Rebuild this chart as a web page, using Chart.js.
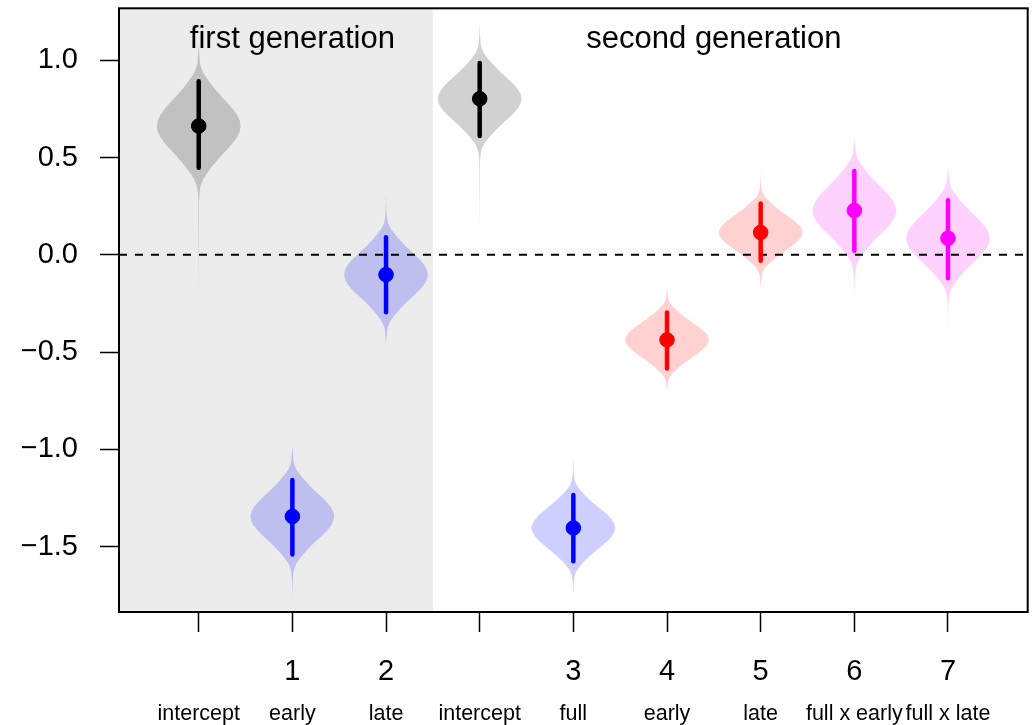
<!DOCTYPE html>
<html>
<head>
    <style>
        body { margin: 0; background: #fff; }
        #chart { display: block; }
    </style>
    <script src="https://cdn.jsdelivr.net/npm/chart.js"></script>
</head>
<body>
    <canvas id="chart" width="1036" height="725"></canvas>
    <script>
        // parameters along the x axis (position = index)
        const categories = ['intercept', 'early', 'late', 'intercept', 'full', 'early', 'late', 'full x early', 'full x late'];
        const termNumbers = ['', '1', '2', '', '3', '4', '5', '6', '7'];
        const groupTitles = ['first generation', 'second generation'];
        const groupTitleX = [1, 5.5];

        // posterior estimates with interval ends
        const estimates = [0.662, -1.345, -0.102, 0.802, -1.404, -0.437, 0.115, 0.228, 0.085];
        const lower = [0.448, -1.541, -0.295, 0.611, -1.575, -0.585, -0.030, 0.021, -0.120];
        const upper = [0.892, -1.157, 0.090, 0.986, -1.234, -0.296, 0.264, 0.431, 0.281];
        // far ends of the thin violin tails
        const tailTop = [1.10, -0.98, 0.31, 1.20, -1.04, -0.17, 0.43, 0.60, 0.46];
        const tailBottom = [-0.20, -1.76, -0.47, 0.12, -1.76, -0.70, -0.19, -0.22, -0.42];

        // violin outline: half width (relative) at distance from the centre (in quarter-interval units)
        const violinOffsets = [0, 0.25, 0.5, 0.75, 1.0, 1.25, 1.5, 1.75, 2.0, 2.25, 2.5, 2.75, 3.0, 3.5];
        const violinWidths = [1, 0.98, 0.92, 0.83, 0.72, 0.6, 0.48, 0.37, 0.27, 0.18, 0.1, 0.05, 0.025, 0.008];

        const yTicks = [-1.5, -1.0, -0.5, 0.0, 0.5, 1.0];
        const yTickLabels = ['\u22121.5', '\u22121.0', '\u22120.5', '0.0', '0.5', '1.0'];

        // styling
        const pointColors = ['#000000', '#0000ff', '#0000ff', '#000000', '#0000ff', '#ff0000', '#ff0000', '#ff00ff', '#ff00ff'];
        const violinFills = ['rgba(0,0,0,0.18)', 'rgba(0,0,255,0.19)', 'rgba(0,0,255,0.19)', 'rgba(0,0,0,0.18)',
            'rgba(0,0,255,0.19)', 'rgba(255,0,0,0.18)', 'rgba(255,0,0,0.18)', 'rgba(255,0,255,0.18)', 'rgba(255,0,255,0.18)'];
        const FONT = 'Liberation Sans, Arial, Helvetica, sans-serif';
        const X_MIN = -0.851, X_MAX = 8.851;
        const Y_MIN = -1.836, Y_MAX = 1.267;
        const SHADE_END = 2.5;
        const VIOLIN_HALF = 0.447;

        Chart.defaults.font.family = FONT;
        Chart.defaults.color = '#000';

        const positions = categories.map((c, i) => i);

        const violinPlugin = {
            id: 'violins',
            beforeDatasetsDraw(chart) {
                const { ctx, chartArea: a, scales: { x, y } } = chart;
                ctx.save();
                ctx.beginPath();
                ctx.rect(a.left, a.top, a.width, a.height);
                ctx.clip();

                // first generation background
                ctx.fillStyle = '#ececec';
                ctx.fillRect(a.left, a.top, x.getPixelForValue(SHADE_END) - a.left, a.height);

                estimates.forEach((m, i) => {
                    const cx = x.getPixelForValue(i);
                    const hw = x.getPixelForValue(i + VIOLIN_HALF) - cx;
                    const q = (upper[i] - lower[i]) / 4;
                    const side = [[0, tailTop[i]]];
                    for (let k = violinOffsets.length - 1; k >= 0; k--) side.push([violinWidths[k], m + violinOffsets[k] * q]);
                    for (let k = 1; k < violinOffsets.length; k++) side.push([violinWidths[k], m - violinOffsets[k] * q]);
                    side.push([0, tailBottom[i]]);

                    ctx.beginPath();
                    side.forEach(([w, v], j) => {
                        const px = cx + w * hw, py = y.getPixelForValue(v);
                        if (j) ctx.lineTo(px, py); else ctx.moveTo(px, py);
                    });
                    for (let j = side.length - 1; j >= 0; j--) {
                        ctx.lineTo(cx - side[j][0] * hw, y.getPixelForValue(side[j][1]));
                    }
                    ctx.closePath();
                    ctx.fillStyle = violinFills[i];
                    ctx.fill();
                });

                // zero reference line
                const y0 = y.getPixelForValue(0);
                ctx.setLineDash([8, 8]);
                ctx.lineWidth = 2;
                ctx.strokeStyle = '#000';
                ctx.beginPath();
                ctx.moveTo(a.left, y0);
                ctx.lineTo(a.right, y0);
                ctx.stroke();
                ctx.restore();
            },
            afterDatasetsDraw(chart) {
                const { ctx, chartArea: a, scales: { x, y } } = chart;
                ctx.save();
                ctx.fillStyle = '#000';
                ctx.font = '31px ' + FONT;
                ctx.textAlign = 'center';
                ctx.textBaseline = 'middle';
                groupTitles.forEach((t, i) => {
                    ctx.fillText(t, x.getPixelForValue(groupTitleX[i]), y.getPixelForValue(1.108));
                });
                // box round the plot
                ctx.lineWidth = 2;
                ctx.strokeStyle = '#000';
                ctx.strokeRect(a.left, a.top, a.width, a.height);
                ctx.restore();
            }
        };

        const barSets = estimates.map((m, i) => ({
            data: [{ x: i, y: lower[i] }, { x: i, y: upper[i] }],
            showLine: true,
            borderColor: pointColors[i],
            borderWidth: 4.5,
            borderCapStyle: 'round',
            pointRadius: 0,
            order: 1
        }));

        new Chart(document.getElementById('chart'), {
            type: 'scatter',
            data: {
                datasets: [{
                    data: estimates.map((m, i) => ({ x: i, y: m })),
                    pointBackgroundColor: pointColors,
                    pointBorderColor: pointColors,
                    pointBorderWidth: 1,
                    pointRadius: 7.3,
                    order: 0
                }].concat(barSets)
            },
            options: {
                responsive: false,
                animation: false,
                devicePixelRatio: 1,
                events: [],
                layout: { padding: { top: 7, right: 5, left: 0, bottom: 0 } },
                plugins: { legend: { display: false }, tooltip: { enabled: false } },
                scales: {
                    x: {
                        type: 'linear', position: 'bottom', weight: 0,
                        min: X_MIN, max: X_MAX,
                        afterBuildTicks: s => { s.ticks = positions.map(v => ({ value: v })); },
                        afterFit: s => { s.height = 80; s.paddingLeft = 0; s.paddingRight = 0; },
                        grid: { drawOnChartArea: false, drawTicks: true, tickLength: 20, tickColor: '#000', tickWidth: 1.5 },
                        border: { display: false },
                        ticks: {
                            autoSkip: false, maxRotation: 0, minRotation: 0, padding: 23,
                            font: { size: 29 }, color: '#000',
                            callback: v => termNumbers[Math.round(v)]
                        }
                    },
                    x2: {
                        type: 'linear', position: 'bottom', weight: 1,
                        min: X_MIN, max: X_MAX,
                        afterBuildTicks: s => { s.ticks = positions.map(v => ({ value: v })); },
                        afterFit: s => { s.height = 33; s.paddingLeft = 0; s.paddingRight = 0; },
                        grid: { display: false, drawTicks: false },
                        border: { display: false },
                        ticks: {
                            autoSkip: false, maxRotation: 0, minRotation: 0, padding: 9,
                            font: { size: 21.5 }, color: '#000',
                            callback: v => categories[Math.round(v)]
                        }
                    },
                    y: {
                        type: 'linear', min: Y_MIN, max: Y_MAX,
                        afterBuildTicks: s => { s.ticks = yTicks.map(v => ({ value: v })); },
                        afterFit: s => { s.width = 119; s.paddingTop = 0; s.paddingBottom = 0; },
                        grid: { drawOnChartArea: false, drawTicks: true, tickLength: 19, tickColor: '#000', tickWidth: 1.5 },
                        border: { display: false },
                        ticks: {
                            padding: 22, font: { size: 29 }, color: '#000',
                            callback: v => yTickLabels[yTicks.indexOf(Math.round(v * 10) / 10)]
                        }
                    }
                }
            },
            plugins: [violinPlugin]
        });
    </script>
</body>
</html>
